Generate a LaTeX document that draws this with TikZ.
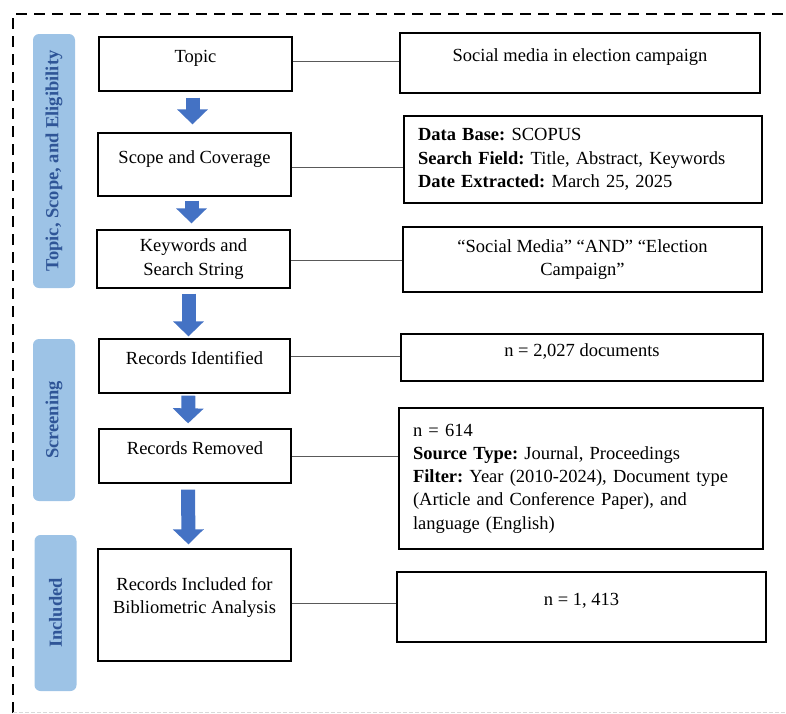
\documentclass[tikz,border=0pt]{standalone}
\usepackage{fontspec}
\setmainfont{Liberation Serif}
\usetikzlibrary{arrows.meta}
\definecolor{arrowblue}{HTML}{4472C4}
\definecolor{phasefill}{HTML}{9DC3E6}
\definecolor{phasetext}{HTML}{2F5597}
\definecolor{linkgray}{HTML}{595959}
\tikzset{
    stepbox/.style = {
        draw,
        line width=1.3pt,
        inner sep=0pt,
        align=center,
        font=\fontsize{18.5}{23.3}\selectfont\frenchspacing,
        },
    lifted/.style = {
        text height=13pt,
        text depth=16pt,
        },
    listbox/.style = {
        stepbox,
        align=left,
        inner xsep=14pt,
        },
    phase/.style = {
        fill = phasefill,
        text = phasetext,
        rounded corners=6pt,
        rotate=90,
        inner sep=0pt,
        minimum height=42pt,
        font=\fontsize{18.5}{23.3}\selectfont\bfseries,
        },
    flow/.style = {
        draw=arrowblue,
        line width=14pt,
        -{Triangle[width=30pt,length=15pt]},
        },
    link/.style = {
        draw=linkgray,
        line width=0.8pt,
        },
    frame/.style = {
        line width=1.5pt,
        dash pattern=on 11pt off 7pt,
        },
}

\begin{document}
\begin{tikzpicture}[x=1pt, y=-1pt]
            \useasboundingbox (0,0) rectangle (786,713);
            \draw[frame] (13,713) -- (13,14) -- (786,14);
            \draw[gray!30, dash pattern=on 4pt off 2pt] (13,712) -- (786,712);

            \node[phase, minimum width=254pt] (p1) at (54,161) {Topic, Scope, and Eligibility};
            \node[phase, minimum width=162pt] (p2) at (54,420) {Screening};
            \node[phase, minimum width=156pt] (p3) at (55.5,613) {Included};

            \node[stepbox, lifted, minimum width=193pt, minimum height=54pt] (topic) at (195.5,64) {Topic};
            \node[stepbox, lifted, minimum width=193pt, minimum height=63pt] (scope) at (194.5,164.5) {Scope and Coverage};
            \node[stepbox, minimum width=193pt, minimum height=58pt] (keys) at (193.5,259) {Keywords and\\Search String};
            \node[stepbox, lifted, minimum width=191pt, minimum height=54pt] (ident) at (194.5,366) {Records Identified};
            \node[stepbox, lifted, minimum width=192pt, minimum height=54pt] (removed) at (195,456) {Records Removed};
            \node[stepbox, text depth=19pt, minimum width=193pt, minimum height=112pt] (incl) at (194.5,605) {Records Included for\\Bibliometric Analysis};

            \node[stepbox, lifted, minimum width=360pt, minimum height=60pt] (topicval) at (580,63) {Social media in election campaign};
            \node[listbox, text width=330pt, minimum height=87pt] (scopeval) at (583,159.5) {\textbf{Data Base:} SCOPUS\\\textbf{Search Field:} Title, Abstract, Keywords\\\textbf{Date Extracted:} March 25, 2025};
            \node[stepbox, minimum width=359pt, minimum height=65pt] (keysval) at (582.5,259.5) {``Social Media'' ``AND'' ``Election\\Campaign''};
            \node[stepbox, lifted, minimum width=362pt, minimum height=47pt] (identval) at (582,357.5) {n = 2,027 documents};
            \node[listbox, text width=336pt, minimum height=141pt] (removedval) at (581,478.5) {n = 614\\\textbf{Source Type:} Journal, Proceedings\\\textbf{Filter:} Year (2010-2024), Document type\\(Article and Conference Paper), and\\language (English)};
            \node[stepbox, lifted, minimum width=369pt, minimum height=70pt] (inclval) at (581.5,607) {n = 1, 413};

            \draw[link] ([yshift=3pt]topic.east) -- ([yshift=3pt]topic.east -| topicval.west);
            \draw[link] ([yshift=-3pt]scope.east) -- ([yshift=-3pt]scope.east -| scopeval.west);
            \draw[link] ([yshift=-1pt]keys.east) -- ([yshift=-1pt]keys.east -| keysval.west);
            \draw[link] ([yshift=10pt]ident.east) -- ([yshift=10pt]ident.east -| identval.west);
            \draw[link] (removed.east) -- (removed.east -| removedval.west);
            \draw[link] ([yshift=2pt]incl.east) -- ([yshift=2pt]incl.east -| inclval.west);

            \draw[flow, shorten <=6pt, shorten >=8pt] ([xshift=-3pt]topic.south) -- ([xshift=-2pt]scope.north);
            \draw[flow, shorten <=4pt, shorten >=6pt] ([xshift=-3pt]scope.south) -- ([xshift=-2pt]keys.north);
            \draw[flow, shorten <=5pt, shorten >=2pt] ([xshift=-5pt]keys.south) -- ([xshift=-6pt]ident.north);
            \draw[flow, shorten <=2pt, shorten >=5pt] ([xshift=-6pt]ident.south) -- ([xshift=-7pt]removed.north);
            \draw[flow, shorten <=6pt, shorten >=4pt] ([xshift=-7pt]removed.south) -- ([xshift=-6pt]incl.north);
        \end{tikzpicture}
\end{document}
